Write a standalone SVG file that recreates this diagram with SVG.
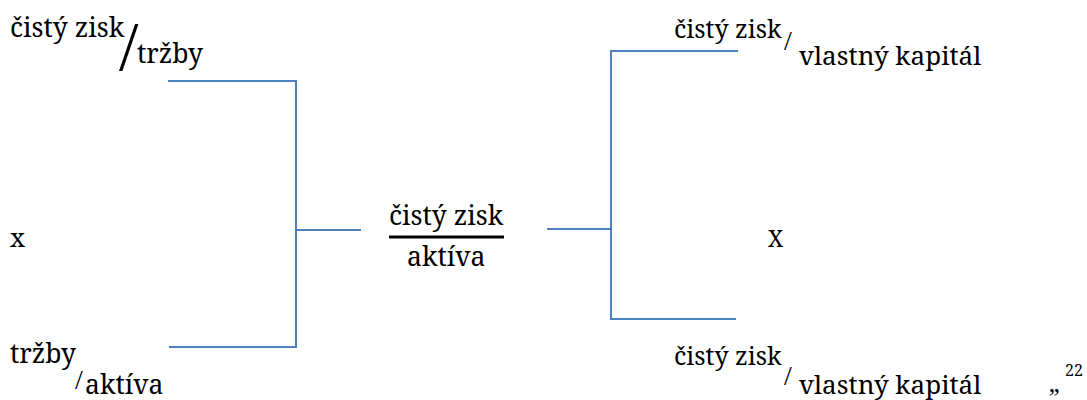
<svg xmlns="http://www.w3.org/2000/svg" width="1087" height="400" viewBox="0 0 1087 400">
<style>
.c{fill:none;stroke:#4F81BD;stroke-width:2}
.t{font-family:"Noto Serif","Liberation Serif",serif;font-size:26.5px;fill:#000}
.s{font-family:"Liberation Serif","Noto Serif",serif;font-size:28px;fill:#000}
</style>
<rect width="1087" height="400" fill="#fff"/>
<g id="connectors">
<polyline class="c" points="168,81 296,81 296,347 169,347"/>
<line class="c" x1="296" y1="230" x2="361" y2="230"/>
<line class="c" x1="547" y1="229" x2="611" y2="229"/>
<polyline class="c" points="738,51 611,51 611,319 736,319"/>
</g>
<g id="node-ros">
<text class="t" x="10" y="37">čistý zisk</text>
<text class="s" x="119" y="70" style="font-size:70px">/</text>
<text class="t" x="137" y="63">tržby</text>
</g>
<g id="node-x-left">
<text class="t" x="10" y="247" style="font-size:26px">x</text>
</g>
<g id="node-turnover">
<text class="t" x="10" y="363">tržby</text>
<text class="s" x="75" y="389">/</text>
<text class="t" x="85" y="394">aktíva</text>
</g>
<g id="node-roa">
<text class="t" x="389" y="225">čistý zisk</text>
<rect x="389" y="235.5" width="115" height="3" fill="#000"/>
<text class="t" x="407" y="266">aktíva</text>
</g>
<g id="node-roe-top">
<text class="t" x="674" y="38" style="font-size:25px">čistý zisk</text>
<text class="s" x="784" y="50">/</text>
<text class="t" x="799" y="65" style="font-size:26px">vlastný kapitál</text>
</g>
<g id="node-x-right">
<text class="t" x="768" y="247" style="font-size:23px">X</text>
</g>
<g id="node-roe-bottom">
<text class="t" x="674" y="365" style="font-size:25px">čistý zisk</text>
<text class="s" x="784" y="385">/</text>
<text class="t" x="799" y="394" style="font-size:26px">vlastný kapitál</text>
<text class="t" x="1049" y="392" style="font-size:24px">„</text>
<text class="t" x="1065" y="376" style="font-size:16px">22</text>
</g>
</svg>
